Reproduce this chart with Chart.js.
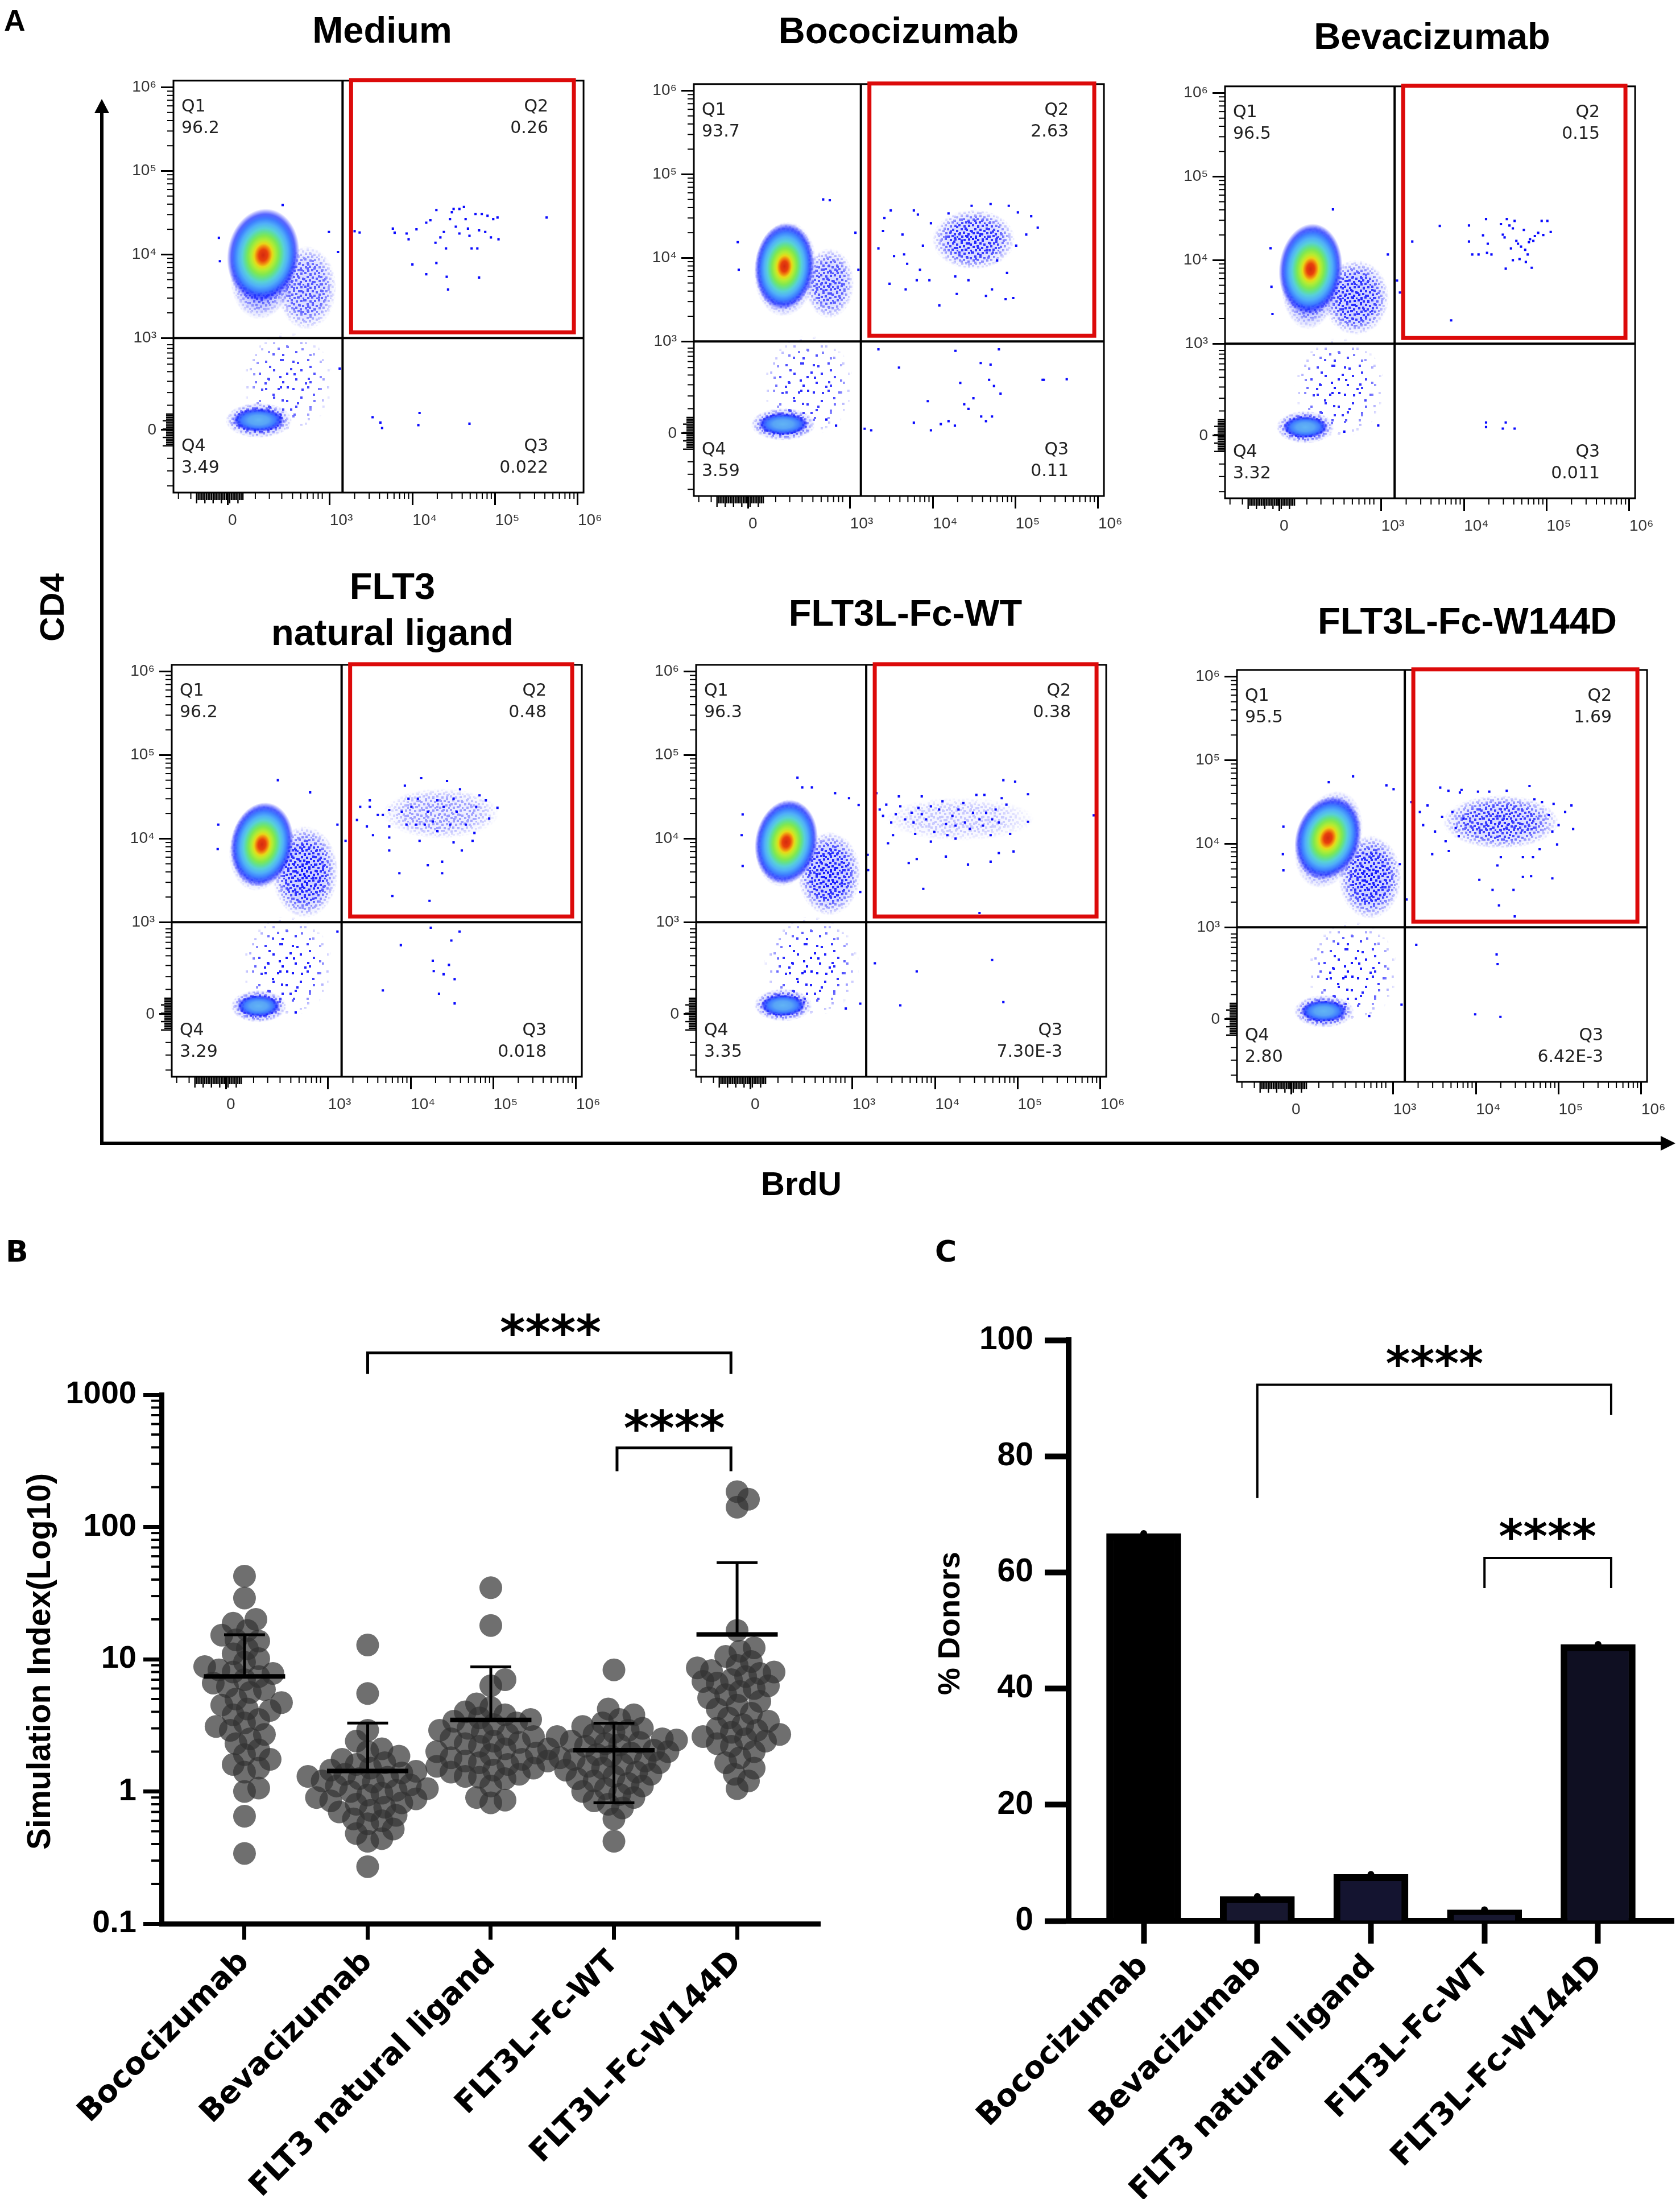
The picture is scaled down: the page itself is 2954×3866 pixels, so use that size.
<!DOCTYPE html>
<html><head><meta charset="utf-8"><title>FLT3L-Fc figure</title>
<script src="https://cdn.jsdelivr.net/npm/chart.js@4.4.1/dist/chart.umd.min.js"></script>
<style>
html,body{margin:0;padding:0;background:#fff}
body{position:relative;width:2954px;height:3866px;overflow:hidden}
canvas{position:absolute;z-index:1}
#ov{position:absolute;left:0;top:0;z-index:2;pointer-events:none}
</style></head><body>
<svg id="ov" width="2954" height="3866" xmlns="http://www.w3.org/2000/svg"></svg>
<script>
// ===================== DATA =====================
// ---- Panel A: flow cytometry (BrdU on x, CD4 on y; raw fluorescence values) ----
const FLOW_TITLES = ['Medium','Bococizumab','Bevacizumab',['FLT3','natural ligand'],'FLT3L-Fc-WT','FLT3L-Fc-W144D'];
const Q1_PCT = ['96.2','93.7','96.5','96.2','96.3','95.5'];
const Q2_PCT = ['0.26','2.63','0.15','0.48','0.38','1.69'];
const Q3_PCT = ['0.022','0.11','0.011','0.018','7.30E-3','6.42E-3'];
const Q4_PCT = ['3.49','3.59','3.32','3.29','3.35','2.80'];
const GATE_BRDU = [1430,1350,1450,1460,1470,1380];
const GATE_CD4  = [1000,1000,1000,1000,1000,1000];
const FLOW_TICKS = [0,1e3,1e4,1e5,1e6];
const FLOW_TICK_LABELS = ['0','10³','10⁴','10⁵','10⁶'];

// main CD4+ population (core of density) and its spread in decades
const BODY_BRDU = [346,354,305,350,350,358];
const BODY_CD4  = [9800,7900,7800,8500,9100,11700];
const BODY_SPREAD = [[0.335,0.43],[0.275,0.40],[0.295,0.42],[0.29,0.39],[0.29,0.39],[0.30,0.39]];
const BODY_TILT = [8,5,5,10,10,18];
const HALO_BRDU = [346,366,309,333,341,366];
const HALO_CD4  = [6900,7400,6300,7900,8900,11200];
const HALO_SPREAD = [[0.40,0.62],[0.38,0.57],[0.36,0.63],[0.37,0.53],[0.36,0.53],[0.39,0.60]];
// lower-right shoulder of CD4+ cells
const TAIL_BRDU = [772,797,748,772,772,772];
const TAIL_CD4  = [4000,5000,3550,4000,3800,4000];
const TAIL_SPREAD = [[0.36,0.50],[0.30,0.42],[0.40,0.45],[0.40,0.55],[0.38,0.50],[0.38,0.50]];
const TAIL_DENS = [0.75,0.8,0.95,1,1,1];
// CD4-low cells between Q4 population and gate
const STREAM_BRDU = [585,585,585,600,600,600];
const STREAM_CD4  = [520,520,520,520,520,520];
const STREAM_SPREAD = [[0.55,0.6],[0.55,0.6],[0.55,0.6],[0.55,0.6],[0.58,0.6],[0.55,0.6]];
const STREAM_DENS = [0.85,0.9,0.95,1,1,1];
// Q4 (CD4- BrdU-) population
const Q4POP_BRDU = [300,341,252,317,317,317];
const Q4POP_CD4  = [107,100,93,88,95,88];
const Q4POP_SPREAD = [[0.31,0.14],[0.30,0.13],[0.27,0.13],[0.26,0.13],[0.27,0.13],[0.28,0.13]];
// Q2 proliferating (BrdU+ CD4+) population
const Q2POP_BRDU = [0,31000,0,23000,20000,20000];
const Q2POP_CD4  = [0,16600,0,20000,17000,18300];
const Q2POP_SPREAD = [[0,0],[0.5,0.36],[0,0],[0.7,0.3],[0.9,0.26],[0.7,0.32]];
const Q2POP_DENS = [0,0.95,0,0.45,0.25,0.9];

// individual events
const medQ2 = [[2000,19000],[2300,18300],[5800,20400],[6100,18200],[8500,17800],[9000,15200],[11200,20000],[14700,24000],[16500,25700],[19500,34000],[19000,13800],[21800,16000],[24000,18600],[25500,11800],[28500,26500],[30000,32000],[31500,35000],[33500,21500],[37000,35000],[42000,37000],[37000,17800],[44000,26500],[47000,20400],[49000,16700],[52000,11800],[58000,30500],[61000,11800],[64000,19400],[69000,30500],[76000,18600],[81000,29000],[89000,16000],[95000,26500],[107000,27700],[110000,15200],[10000,7600],[14700,5800],[19500,7900],[26000,5400],[27000,3800],[64000,5300],[420000,27700]];
const medQ3 = [[3300,138],[4100,80],[4300,21],[12200,185],[11800,52],[49000,68]];
const medQ1 = [[-90,15800],[-80,8300],[537,39000],[992,18600],[1260,10700],[1320,667]];

const bocoQ2 = [[3100,37000],[5900,37000],[6600,33000],[2600,30000],[2500,21000],[2200,13000],[3000,4900],[3400,10500],[4500,11000],[4300,19000],[4900,8500],[6400,5400],[4700,4200],[9500,26000],[9100,5400],[12000,2700],[19500,3700],[44000,3500],[52000,4200],[76000,3200],[94000,3300],[107000,35000],[155000,31500],[186000,23000],[135000,19000],[102000,14000],[83000,42000],[50000,44000],[29500,42000],[15500,34000],[7600,14000],[7000,7200],[79000,6600],[60000,9300],[18700,6000],[27000,5400]];
const bocoQ3 = [[2200,914],[3900,715],[8700,350],[5900,116],[9500,33],[12500,100],[15500,133],[18500,83],[18800,898],[21500,549],[24000,316],[27000,266],[31000,382],[38000,765],[38500,183],[44000,133],[48000,582],[50000,748],[55000,515],[63000,914],[66000,432],[52000,183],[1500,50],[1800,33],[213000,582],[220000,582],[417000,588]];
const bocoQ1 = [[735,50000],[800,49000],[-105,15400],[-95,7200],[1260,7200],[1160,20000],[862,83],[767,150]];

const bevaQ2 = [[2370,16700],[5100,25700],[11500,26000],[11500,16700],[12600,11700],[15000,11700],[17000,19800],[18500,31000],[19400,15700],[19000,12200],[21500,11700],[28000,27000],[29500,20200],[31000,18700],[33000,31000],[35500,26000],[37000,13800],[39000,24000],[41000,29500],[43000,17000],[39000,10000],[45000,15700],[47000,10300],[49000,14500],[53000,23000],[55000,13300],[56000,9500],[59000,11700],[61000,16400],[63000,17800],[66000,8100],[69000,17000],[72000,19400],[79000,21200],[87000,29500],[91000,20000],[102000,29500],[112000,21700],[32000,7900],[7000,1900]];
const bevaQ3 = [[18500,143],[18500,93],[32000,143],[29500,76],[41000,76]];
const bevaQ1 = [[525,40500],[-89,13900],[-80,4800],[-70,2270],[1200,11700],[1550,5700],[1680,4100],[970,110],[636,43]];

const flt3Q2 = [[2240,16700],[2450,24000],[3200,28700],[3200,24000],[2950,14000],[3500,11000],[4000,19200],[4600,19200],[5500,22000],[5500,14000],[5500,10300],[5500,7200],[7300,3850],[6000,2060],[8500,43000],[7800,21000],[8900,14700],[9400,30000],[10200,24000],[11700,14700],[13400,53000],[12800,9400],[16100,4800],[16900,1800],[24000,3850],[24000,5300],[27500,49000],[39500,39000],[68000,33000],[81000,28700],[112000,23400],[89000,17400],[62000,24000],[41500,7200],[56000,9400],[33000,9000],[21000,12300],[18500,16000],[30000,14700],[36000,21000],[25000,24000],[16100,21000],[21000,28700],[33000,30000],[46500,14700],[59000,11700],[12200,30000],[14800,14700]];
const flt3Q3 = [[17500,940],[7600,750],[39000,898],[31000,800],[18500,581],[19000,468],[29000,535],[25000,433],[34000,380],[4600,257],[22000,222],[34000,116]];
const flt3Q1 = [[507,50000],[-79,14700],[-85,7500],[824,35700],[1300,14700],[1630,9400],[1300,898],[682,18]];

const wtQ2 = [[1950,35000],[2140,22300],[2350,18700],[2570,25500],[2950,15600],[3100,11000],[3350,19600],[3650,32000],[3800,24400],[4350,17000],[5200,20400],[5500,15600],[5750,11400],[6300,23300],[6900,32000],[6900,19600],[7800,17000],[8900,24400],[9800,12000],[11200,22300],[12300,28000],[13500,14900],[14100,11000],[16200,18700],[17700,14300],[19200,22300],[22000,26700],[23000,15600],[26300,13100],[28800,20400],[31600,33300],[34500,17000],[37800,14300],[39500,33300],[41500,20400],[47000,11000],[49000,17000],[54000,22300],[59000,15600],[64000,30500],[67000,50000],[73000,25500],[81000,11400],[93000,48000],[89000,7000],[133000,34000],[133000,15900],[4800,5100],[6000,5700],[7200,2500],[13500,6100],[25000,4900],[47000,5300],[59000,6700],[34500,1290],[830000,19000],[2700,8800],[8900,9200],[17700,10000]];
const wtQ3 = [[1870,553],[6000,465],[49000,588],[3800,95],[67000,130]];
const wtQ1 = [[460,53500],[507,41000],[602,41000],[-79,19500],[-89,11000],[-79,4700],[830,35000],[967,30500],[1190,25300],[1245,2300],[1530,6400],[1550,4200],[1245,113],[935,60]];

const w144Q2 = [[2960,7500],[3700,47000],[4650,43000],[6400,41000],[6700,44000],[10600,42000],[14500,42000],[23600,43000],[44500,49000],[51000,34000],[63000,31500],[87000,30000],[143000,28700],[150000,15000],[96000,9800],[59000,8600],[37000,6900],[49000,6900],[20000,6900],[18200,5500],[15900,2800],[28500,2800],[19000,1830],[29500,1350],[11000,3700],[37000,4000],[46500,4100],[84000,3850],[2100,24000],[2300,16700],[2600,28700],[3200,14000],[3900,21000],[4300,10700],[4700,8200],[5200,24000],[5700,15400],[6200,12300],[7100,20000],[76000,22000],[84000,14000],[100000,16700],[120000,24000],[1740,19200],[1660,31500]];
const w144Q3 = [[1900,810],[17800,704],[18300,599],[9800,53],[19800,25]];
const w144Q1 = [[605,64000],[366,54500],[-80,16000],[-85,7500],[-80,4800],[933,50000],[1010,45000],[1200,5700],[1450,2150],[1260,158],[764,35]];

const EVENTS = [
  [...medQ2, ...medQ3, ...medQ1],
  [...bocoQ2, ...bocoQ3, ...bocoQ1],
  [...bevaQ2, ...bevaQ3, ...bevaQ1],
  [...flt3Q2, ...flt3Q3, ...flt3Q1],
  [...wtQ2, ...wtQ3, ...wtQ1],
  [...w144Q2, ...w144Q3, ...w144Q1]
];

// ---- Panel B: stimulation index per donor ----
const CATEGORIES = ['Bococizumab','Bevacizumab','FLT3 natural ligand','FLT3L-Fc-WT','FLT3L-Fc-W144D'];
const SI_BOCO = [42.5,29,20,18.7,16.5,15.2,14,13.7,12,11,10.1,9.5,8.8,8.3,8,7.8,7.4,7,6.6,6.2,5.9,5.6,5.0,4.7,4.5,4.2,4.1,3.8,3.5,3.3,3.1,2.9,2.7,2.5,2.3,2.06,1.9,1.75,1.6,1.5,1.4,1.06,1.0,0.65,0.34];
const SI_BEVA = [12.8,5.5,2.9,2.4,2.1,2.0,1.85,1.75,1.65,1.6,1.5,1.45,1.42,1.38,1.35,1.3,1.28,1.25,1.2,1.18,1.12,1.1,1.05,1.02,1.0,0.97,0.94,0.9,0.88,0.85,0.82,0.8,0.76,0.72,0.7,0.66,0.62,0.6,0.57,0.52,0.48,0.44,0.42,0.27];
const SI_FLT3 = [34.7,18,7.0,6.3,4.6,4.3,4.0,3.8,3.6,3.5,3.4,3.3,3.2,3.0,2.9,2.8,2.7,2.6,2.5,2.4,2.35,2.3,2.2,2.1,2.0,1.95,1.9,1.8,1.75,1.7,1.7,1.65,1.6,1.55,1.5,1.45,1.4,1.35,1.3,1.28,1.25,1.1,0.9,0.86,0.82];
const SI_WT = [8.3,4.2,3.8,3.5,3.3,3.1,3.0,2.9,2.8,2.7,2.6,2.5,2.45,2.4,2.35,2.3,2.25,2.2,2.1,2.05,2.0,1.95,1.9,1.85,1.8,1.75,1.7,1.65,1.6,1.55,1.5,1.45,1.4,1.35,1.3,1.25,1.2,1.15,1.1,1.05,1.0,0.95,0.9,0.85,0.8,0.75,0.62,0.42];
const SI_W144D = [185,162,141,16.5,12.2,11.5,10.5,9.6,9.0,8.6,8.2,8.0,7.8,7.4,7.0,6.8,6.6,6.3,6.0,5.7,5.4,5.1,4.8,4.5,4.2,3.9,3.6,3.4,3.2,3.0,2.9,2.8,2.7,2.6,2.5,2.4,2.3,2.2,2.0,1.8,1.65,1.5,1.35,1.2,1.05];
const SI_GROUPS = [SI_BOCO,SI_BEVA,SI_FLT3,SI_WT,SI_W144D];
const SI_MEAN = [7.41,1.43,3.47,2.05,15.4];
const SI_SD   = [7.9,1.86,5.28,1.23,38.3];
const SI_TICKS = [0.1,1,10,100,1000];
// significance brackets: [from category, to category, bar value, leg value]
const SI_BRACKETS = [[1,3.95,2070,1435],[3.025,3.95,396,264]];
const SI_STARS = [[2.485,4140],[3.49,777]];

// ---- Panel C: % donors responding ----
const DONORS_PCT = [66.7,4.2,8.0,1.9,47.6];
const DONOR_TICKS = [0,20,40,60,80,100];
// [from, to, bar value, left leg value, right leg value]
const DONOR_BRACKETS = [[1,4.115,92.3,72.8,87.1],[3,4.115,62.5,57.3,57.3]];
const DONOR_STARS = [[2.56,99.2],[3.555,69.4]];

// ===================== LAYOUT / STYLE =====================
const FRAME_L = [305,1220,2154,302,1224,2175];
const FRAME_T = [137,143,147,1164,1164,1173];
const FRAME_W = 734, FRAME_H = 729;
const TITLE_X = [672,1580,2518,690,1592,2580];
const TITLE_Y = [75,76,86,[1053,1134],1100,1114];
const XLIN = 1.23, YLIN = 1.1;   // width of the linear (0..10^3) segment, in decades
const tx = v => v < 1000 ? v / 1000 * XLIN : XLIN + Math.log10(v / 1000);
const ty = v => v < 1000 ? v / 1000 * YLIN : YLIN + Math.log10(v / 1000);

function makeTile(size, dots){
  const c = document.createElement('canvas'); c.width = c.height = size;
  const t = c.getContext('2d'); t.fillStyle = '#0a0aff';
  dots.forEach(([a,b]) => t.fillRect(a,b,4,4));
  return c;
}
// two co-prime tile sizes overlaid give an irregular-looking speckle
const DENSE_TILES = [
  makeTile(24, [[0,0],[9,2],[17,1],[4,7],[13,8],[20,10],[1,14],[8,13],[16,16],[5,20],[12,19],[21,21]]),
  makeTile(37, [[2,3],[15,1],[28,6],[7,14],[22,17],[33,22],[11,27],[25,31],[3,33]])
];
const SPARSE_TILES = [
  makeTile(48, [[3,5],[29,2],[17,20],[40,26],[8,36],[33,41]]),
  makeTile(71, [[5,9],[30,4],[55,12],[18,27],[44,31],[64,40],[9,50],[36,55],[58,62],[24,66],[50,20],[2,30]])
];
const JET = [[0,'#d42a10'],[0.12,'#e8400c'],[0.19,'#f08c10'],[0.25,'#e8d818'],[0.32,'#b8ec30'],[0.42,'#80e850'],[0.5,'#62e090'],[0.58,'#58d0d8'],[0.68,'#50b0f8'],[0.78,'#3e80ff'],[0.88,'rgba(30,50,255,0.75)'],[1,'rgba(20,20,255,0)']];
const COOL = [[0,'#62b4f4'],[0.4,'#58a4f6'],[0.65,'#3f7cff'],[0.85,'rgba(30,50,255,0.8)'],[1,'rgba(0,0,255,0)']];

Chart.defaults.font.family = '"Liberation Sans", Arial, sans-serif';
Chart.defaults.color = '#000';

function seg(ctx,x1,y1,x2,y2){ctx.beginPath();ctx.moveTo(x1,y1);ctx.lineTo(x2,y2);ctx.stroke();}

function cloud(ctx, cx, cy, rx, ry, rot, dens, solid, tiles){
  if (dens <= 0 || rx <= 0) return;
  const R = Math.ceil(Math.max(rx, ry)) + 2;
  const c = document.createElement('canvas'); c.width = c.height = 2 * R;
  const o = c.getContext('2d');
  (tiles || DENSE_TILES).forEach(t => { o.fillStyle = o.createPattern(t, 'repeat'); o.fillRect(0, 0, 2*R, 2*R); });
  if (solid > 0) { o.globalAlpha = solid; o.fillStyle = '#2233ff'; o.fillRect(0, 0, 2*R, 2*R); o.globalAlpha = 1; }
  o.globalCompositeOperation = 'destination-in';
  o.translate(R, R); o.rotate(rot * Math.PI / 180); o.scale(rx, ry);
  const g = o.createRadialGradient(0,0,0,0,0,1);
  g.addColorStop(0, 'rgba(0,0,0,' + dens + ')');
  g.addColorStop(0.6, 'rgba(0,0,0,' + (dens * 0.85) + ')');
  g.addColorStop(1, 'rgba(0,0,0,0)');
  o.fillStyle = g; o.beginPath(); o.arc(0, 0, 1, 0, Math.PI * 2); o.fill();
  ctx.drawImage(c, Math.round(cx - R), Math.round(cy - R));
}
function heat(ctx, cx, cy, rx, ry, rot, stops){
  ctx.save(); ctx.translate(cx, cy); ctx.rotate(rot * Math.PI / 180); ctx.scale(rx, ry);
  const g = ctx.createRadialGradient(0,0,0,0,0,1);
  stops.forEach(([s,c]) => g.addColorStop(s, c));
  ctx.fillStyle = g; ctx.beginPath(); ctx.arc(0, 0, 1, 0, Math.PI * 2); ctx.fill();
  ctx.restore();
}

const LIN_MINOR = [0.33,0.5,0.65,0.78,0.88,0.96,1.03,1.09,1.14];
function flowPlugin(p){
  return {
    id: 'flow' + p,
    beforeDatasetsDraw(chart){
      const {ctx, chartArea: a, scales: {x, y}} = chart;
      const ux = x.getPixelForValue(1) - x.getPixelForValue(0);
      const uy = y.getPixelForValue(0) - y.getPixelForValue(1);
      const px = v => x.getPixelForValue(tx(v)), py = v => y.getPixelForValue(ty(v));
      ctx.save(); ctx.beginPath(); ctx.rect(a.left, a.top, a.width, a.height); ctx.clip();
      cloud(ctx, px(STREAM_BRDU[p]), py(STREAM_CD4[p]), STREAM_SPREAD[p][0]*ux, STREAM_SPREAD[p][1]*uy, 0, STREAM_DENS[p], 0, SPARSE_TILES);
      cloud(ctx, px(TAIL_BRDU[p]), py(TAIL_CD4[p]), TAIL_SPREAD[p][0]*ux, TAIL_SPREAD[p][1]*uy, 0, TAIL_DENS[p], 0.25);
      cloud(ctx, px(Q2POP_BRDU[p] || 1), py(Q2POP_CD4[p] || 1), Q2POP_SPREAD[p][0]*ux, Q2POP_SPREAD[p][1]*uy, 0, Q2POP_DENS[p], 0.2);
      cloud(ctx, px(HALO_BRDU[p]), py(HALO_CD4[p]), HALO_SPREAD[p][0]*ux, HALO_SPREAD[p][1]*uy, BODY_TILT[p], 1, 0.45);
      cloud(ctx, px(Q4POP_BRDU[p]), py(Q4POP_CD4[p]), Q4POP_SPREAD[p][0]*ux*1.3, Q4POP_SPREAD[p][1]*uy*1.5, 0, 1, 0.3);
      heat(ctx, px(Q4POP_BRDU[p]), py(Q4POP_CD4[p]), Q4POP_SPREAD[p][0]*ux, Q4POP_SPREAD[p][1]*uy, 0, COOL);
      heat(ctx, px(BODY_BRDU[p]), py(BODY_CD4[p]), BODY_SPREAD[p][0]*ux*1.3, BODY_SPREAD[p][1]*uy*1.3, BODY_TILT[p], JET);
      ctx.restore();
    },
    afterDatasetsDraw(chart){
      const {ctx, chartArea: a, scales: {x, y}} = chart;
      const px = v => x.getPixelForValue(tx(v)), py = v => y.getPixelForValue(ty(v));
      ctx.save();
      ctx.strokeStyle = '#000';
      ctx.lineWidth = 2;
      for (let d = 3; d < 6; d++) for (let k = 2; k < 10; k++) {
        const v = k * Math.pow(10, d);
        const xp = px(v); seg(ctx, xp, a.bottom, xp, a.bottom + 11);
        const yp = py(v); seg(ctx, a.left - 11, yp, a.left, yp);
      }
      LIN_MINOR.forEach(u => {
        const xp = x.getPixelForValue(u); seg(ctx, xp, a.bottom, xp, a.bottom + 11);
        const yp = y.getPixelForValue(u * YLIN / XLIN); seg(ctx, a.left - 11, yp, a.left, yp);
      });
      [-0.45,-0.6].forEach(u => { const xp = x.getPixelForValue(u); seg(ctx, xp, a.bottom, xp, a.bottom + 11); });
      [-0.34,-0.49,-0.67].forEach(u => { const yp = y.getPixelForValue(u); seg(ctx, a.left - 11, yp, a.left, yp); });
      ctx.lineWidth = 2.4;
      for (let u = -0.38, i = 0; u <= 0.2; u += 0.02, i++) { const xp = x.getPixelForValue(u); seg(ctx, xp, a.bottom, xp, a.bottom + (i % 5 ? 13 : 19)); }
      for (let u = -0.19, i = 0; u <= 0.19; u += 0.02, i++) { const yp = y.getPixelForValue(u); seg(ctx, a.left - (i % 5 ? 13 : 19), yp, a.left, yp); }
      ctx.lineWidth = 3; ctx.strokeRect(a.left, a.top, a.width, a.height);
      const gx = px(GATE_BRDU[p]), gy = py(GATE_CD4[p]);
      ctx.lineWidth = 4;
      seg(ctx, gx, a.top, gx, a.bottom); seg(ctx, a.left, gy, a.right, gy);
      ctx.strokeStyle = '#dc0a0a'; ctx.lineWidth = 7;
      ctx.strokeRect(gx + 15, a.top - 1, (a.right - 17) - (gx + 15), (gy - 10) - (a.top - 1));
      ctx.fillStyle = '#222'; ctx.font = '30px "DejaVu Sans"';
      ctx.textAlign = 'left';
      ctx.fillText('Q1', a.left + 14, a.top + 54); ctx.fillText(Q1_PCT[p], a.left + 14, a.top + 92);
      ctx.fillText('Q4', a.left + 14, a.bottom - 73); ctx.fillText(Q4_PCT[p], a.left + 14, a.bottom - 35);
      ctx.textAlign = 'right';
      ctx.fillText('Q2', a.right - 62, a.top + 54); ctx.fillText(Q2_PCT[p], a.right - 62, a.top + 92);
      const q3off = Q3_PCT[p].includes('E') ? 77 : 62;
      ctx.fillText('Q3', a.right - q3off, a.bottom - 73); ctx.fillText(Q3_PCT[p], a.right - q3off, a.bottom - 35);
      ctx.restore();
    }
  };
}

function flowChart(p){
  const AXL = 130, AXB = 110, PT = 20, PR = 30;
  const cv = document.createElement('canvas');
  cv.width = AXL + FRAME_W + PR; cv.height = PT + FRAME_H + AXB;
  cv.style.left = (FRAME_L[p] - AXL) + 'px'; cv.style.top = (FRAME_T[p] - PT) + 'px';
  document.body.appendChild(cv);
  const tickFont = {family: '"Liberation Sans", "DejaVu Sans"', size: 28};
  new Chart(cv, {
    type: 'scatter',
    data: {datasets: [{
      data: EVENTS[p].map(([b, c]) => ({x: tx(b), y: ty(c)})),
      pointStyle: 'rect', pointRadius: 2.9, pointHoverRadius: 2.9,
      backgroundColor: '#0a0aff', borderWidth: 0
    }]},
    options: {
      responsive: false, animation: false, devicePixelRatio: 1, events: [],
      layout: {padding: {top: PT, right: PR, left: 0, bottom: 0}},
      plugins: {legend: {display: false}, tooltip: {enabled: false}},
      scales: {
        x: {type: 'linear', min: -0.66, max: 4.30,
          afterFit: s => { s.height = AXB; },
          afterBuildTicks: s => { s.ticks = FLOW_TICKS.map(v => ({value: tx(v)})); },
          ticks: {callback: (v, i) => FLOW_TICK_LABELS[i], font: tickFont, color: '#333', padding: 10, maxRotation: 0, autoSkip: false, align: 'start'},
          grid: {drawOnChartArea: false, tickLength: 22, tickWidth: 3, tickColor: '#000'},
          border: {display: false}},
        y: {type: 'linear', min: -0.75, max: 4.18,
          afterFit: s => { s.width = AXL; },
          afterBuildTicks: s => { s.ticks = FLOW_TICKS.map(v => ({value: ty(v)})); },
          ticks: {callback: (v, i) => FLOW_TICK_LABELS[i], font: tickFont, color: '#333', padding: 8, autoSkip: false},
          grid: {drawOnChartArea: false, tickLength: 22, tickWidth: 3, tickColor: '#000'},
          border: {display: false}}
      }
    },
    plugins: [flowPlugin(p)]
  });
}
for (let p = 0; p < 6; p++) flowChart(p);

// ---------- Panel B ----------
const B_PX_DEC = 232.5, B_PX_CAT = 216.5, B_MIN_D = 24;
function swarm(vals, gi){
  const placed = [], out = [];
  vals.slice().sort((a, b) => a - b).forEach(v => {
    const yp = Math.log10(v) * B_PX_DEC;
    let off = 0;
    for (let k = 0; k < 80; k++) {
      const cand = k === 0 ? 0 : (k % 2 ? 1 : -1) * Math.ceil(k / 2) * 5;
      if (placed.every(q => (q.dx - cand) ** 2 + (q.y - yp) ** 2 >= B_MIN_D * B_MIN_D)) { off = cand; break; }
    }
    placed.push({dx: off, y: yp});
    out.push({x: gi + off / B_PX_CAT, y: v});
  });
  return out;
}
function starText(ctx, sx, topPx, size){
  ctx.font = 'bold ' + size + 'px "DejaVu Sans"'; ctx.textAlign = 'center'; ctx.fillStyle = '#000';
  const m = ctx.measureText('****');
  ctx.fillText('****', sx, topPx + m.actualBoundingBoxAscent);
}
const bPlugin = {
  id: 'bdecor',
  afterDatasetsDraw(chart){
    const {ctx, chartArea: a, scales: {x, y}} = chart;
    ctx.save(); ctx.strokeStyle = '#000'; ctx.lineCap = 'butt';
    ctx.lineWidth = 4;
    for (let d = -1; d < 3; d++) for (let k = 2; k < 10; k++) { const yp = y.getPixelForValue(k * Math.pow(10, d)); seg(ctx, a.left - 18, yp, a.left, yp); }
    SI_MEAN.forEach((m, i) => {
      const cx = x.getPixelForValue(i), half = x.getPixelForValue(i + 0.33) - cx, cap = x.getPixelForValue(i + 0.166) - cx;
      const pm = y.getPixelForValue(m), pu = y.getPixelForValue(m + SI_SD[i]);
      ctx.lineWidth = 5; seg(ctx, cx, pm, cx, pu); seg(ctx, cx - cap, pu, cx + cap, pu);
      if (m - SI_SD[i] > 0) { const pl = y.getPixelForValue(m - SI_SD[i]); seg(ctx, cx, pm, cx, pl); seg(ctx, cx - cap, pl, cx + cap, pl); }
      ctx.lineWidth = 8; seg(ctx, cx - half, pm, cx + half, pm);
    });
    ctx.lineWidth = 5;
    SI_BRACKETS.forEach(([f, t, top, leg]) => {
      const x1 = x.getPixelForValue(f), x2 = x.getPixelForValue(t), yt = y.getPixelForValue(top), yl = y.getPixelForValue(leg);
      ctx.beginPath(); ctx.moveTo(x1, yl); ctx.lineTo(x1, yt); ctx.lineTo(x2, yt); ctx.lineTo(x2, yl); ctx.stroke();
    });
    SI_STARS.forEach(([sx, sv]) => starText(ctx, x.getPixelForValue(sx), y.getPixelForValue(sv), 85));
    ctx.restore();
  }
};
const CAT_FONT = {family: '"DejaVu Sans"', weight: 'bold', size: 54};
{
  const cv = document.createElement('canvas'); cv.width = 1480; cv.height = 1586;
  cv.style.left = '0px'; cv.style.top = '2280px'; document.body.appendChild(cv);
  new Chart(cv, {
    type: 'scatter',
    data: {datasets: SI_GROUPS.map((vals, gi) => ({
      data: swarm(vals, gi), pointRadius: 20, pointHoverRadius: 20,
      backgroundColor: 'rgba(50,50,50,0.7)', borderWidth: 0
    }))},
    options: {
      responsive: false, animation: false, devicePixelRatio: 1, events: [],
      layout: {padding: {top: 172, right: 38, left: 0, bottom: 0}},
      plugins: {legend: {display: false}, tooltip: {enabled: false}},
      scales: {
        x: {type: 'linear', min: -0.674, max: 4.674,
          afterFit: s => { s.height = 484; },
          afterBuildTicks: s => { s.ticks = [0,1,2,3,4].map(v => ({value: v})); },
          ticks: {callback: v => CATEGORIES[v], font: CAT_FONT, color: '#000', minRotation: 45, maxRotation: 45, autoSkip: false, padding: 8},
          grid: {drawOnChartArea: false, tickLength: 28, tickWidth: 7, tickColor: '#000'},
          border: {display: true, width: 9, color: '#000'}},
        y: {type: 'logarithmic', min: 0.1, max: 1000,
          afterFit: s => { s.width = 284; },
          afterBuildTicks: s => { s.ticks = SI_TICKS.map(v => ({value: v})); },
          ticks: {callback: v => String(v), font: {weight: 'bold', size: 56}, color: '#000', padding: 12, autoSkip: false},
          grid: {drawOnChartArea: false, tickLength: 32, tickWidth: 7, tickColor: '#000'},
          border: {display: true, width: 9, color: '#000'}}
      }
    },
    plugins: [bPlugin]
  });
}

// ---------- Panel C ----------
const cPlugin = {
  id: 'cdecor',
  afterDatasetsDraw(chart){
    const {ctx, scales: {x, y}} = chart;
    ctx.save(); ctx.strokeStyle = '#000'; ctx.lineWidth = 4;
    DONOR_BRACKETS.forEach(([f, t, top, l1, l2]) => {
      const x1 = x.getPixelForValue(f), x2 = x.getPixelForValue(t), yt = y.getPixelForValue(top);
      ctx.beginPath(); ctx.moveTo(x1, y.getPixelForValue(l1)); ctx.lineTo(x1, yt); ctx.lineTo(x2, yt); ctx.lineTo(x2, y.getPixelForValue(l2)); ctx.stroke();
    });
    DONOR_STARS.forEach(([sx, sv]) => starText(ctx, x.getPixelForValue(sx), y.getPixelForValue(sv), 82));
    ctx.restore();
  }
};
{
  const cv = document.createElement('canvas'); cv.width = 1394; cv.height = 1586;
  cv.style.left = '1560px'; cv.style.top = '2280px'; document.body.appendChild(cv);
  const pts = DONORS_PCT.map((v, i) => ({x: i, y: v}));
  new Chart(cv, {
    type: 'bar',
    data: {datasets: [
      {type: 'bar', data: pts, backgroundColor: ['#000000','#17172f','#141430','#17172f','#0f0f22'], borderColor: '#000', borderWidth: 12, barThickness: 131, borderSkipped: 'bottom'},
      {type: 'scatter', data: pts, pointRadius: 6, pointHoverRadius: 6, backgroundColor: '#000', borderWidth: 0}
    ]},
    options: {
      responsive: false, animation: false, devicePixelRatio: 1, events: [],
      layout: {padding: {top: 76, right: 11, left: 0, bottom: 0}},
      plugins: {legend: {display: false}, tooltip: {enabled: false}},
      scales: {
        x: {type: 'linear', min: -0.661, max: 4.666, offset: false,
          afterFit: s => { s.height = 489; },
          afterBuildTicks: s => { s.ticks = [0,1,2,3,4].map(v => ({value: v})); },
          ticks: {callback: v => CATEGORIES[v], font: CAT_FONT, color: '#000', minRotation: 45, maxRotation: 45, autoSkip: false, padding: 8},
          grid: {offset: false, drawOnChartArea: false, tickLength: 40, tickWidth: 10, tickColor: '#000'},
          border: {display: true, width: 10, color: '#000'}},
        y: {type: 'linear', min: 0, max: 100,
          afterFit: s => { s.width = 319; },
          afterBuildTicks: s => { s.ticks = DONOR_TICKS.map(v => ({value: v})); },
          ticks: {callback: v => String(v), font: {weight: 'bold', size: 57}, color: '#000', padding: 20, autoSkip: false},
          grid: {drawOnChartArea: false, tickLength: 42, tickWidth: 10, tickColor: '#000'},
          border: {display: true, width: 10, color: '#000'}}
      }
    },
    plugins: [cPlugin]
  });
}

// ---------- overlay text & arrows ----------
const svg = document.getElementById('ov');
const NS = 'http://www.w3.org/2000/svg';
function el(tag, attrs, text){
  const e = document.createElementNS(NS, tag);
  for (const k in attrs) e.setAttribute(k, attrs[k]);
  if (text !== undefined) e.textContent = text;
  svg.appendChild(e); return e;
}
function label(str, x, y, size, opts = {}){
  const a = {x, y, 'font-size': size, 'font-family': opts.family || 'Liberation Sans, Arial, sans-serif', 'font-weight': 'bold', 'text-anchor': opts.anchor || 'middle', fill: '#000'};
  if (opts.rot) a.transform = `rotate(${opts.rot} ${x} ${y})`;
  return el('text', a, str);
}
label('A', 7, 54, 52, {anchor: 'start'});
label('B', 10, 2218, 52, {anchor: 'start', family: 'DejaVu Sans'});
label('C', 1644, 2218, 52, {anchor: 'start', family: 'DejaVu Sans'});
FLOW_TITLES.forEach((t, i) => {
  if (Array.isArray(t)) t.forEach((s, j) => label(s, TITLE_X[i], TITLE_Y[i][j], 65));
  else label(t, TITLE_X[i], TITLE_Y[i], 65);
});
label('CD4', 112, 1068, 60, {rot: -90});
label('BrdU', 1409, 2101, 58);
label('Simulation Index(Log10)', 88, 2921, 57, {rot: -90});
label('% Donors', 1687, 2854, 54, {rot: -90});
el('line', {x1: 179, y1: 2013, x2: 179, y2: 195, stroke: '#000', 'stroke-width': 6});
el('polygon', {points: '179,174 166,199 192,199', fill: '#000'});
el('line', {x1: 176, y1: 2010, x2: 2922, y2: 2010, stroke: '#000', 'stroke-width': 6});
el('polygon', {points: '2946,2010 2920,1997 2920,2023', fill: '#000'});
</script></body></html>
